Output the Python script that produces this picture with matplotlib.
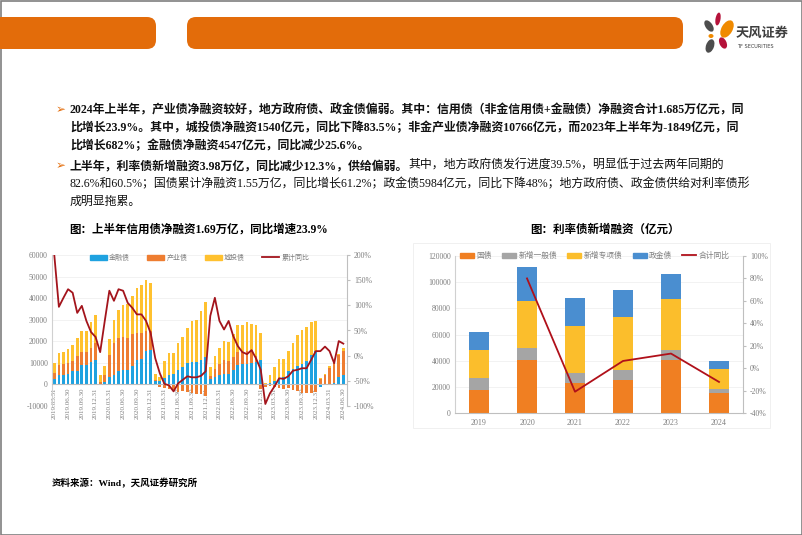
import numpy as np
import matplotlib
matplotlib.use('Agg')
import matplotlib.pyplot as plt
from matplotlib.patches import FancyBboxPatch, Rectangle, Ellipse, Patch
from matplotlib.lines import Line2D

plt.rcParams['font.family'] = ['Liberation Serif', 'Noto Sans CJK SC', 'DejaVu Sans']
plt.rcParams['axes.unicode_minus'] = False

W, H = 802, 535

# ---- left chart: monthly cumulative credit bond net financing (2019.03 - 2024.06)
fin_bond = [2500, 4500, 4500, 5000, 6000, 6000, 9000, 9000, 10500, 11500,
            -200, 1000, 3500, 4500, 6000, 6500, 6500, 8500, 11500, 12000, 15500, 16000,
            1500, 1500, 3000, 4500, 5000, 6500, 8000, 10000, 10500, 10500, 11500, 12500,
            2700, 3400, 4200, 5000, 5000, 6500, 9200, 9700, 9700, 10000, 10500, 11200,
            300, 800, 1500, 2500, 3500, 6112, 7000, 8500, 9500, 11000, 13500, 15500,
            -1200, 0, 300, 800, 3500, 4547]
ind_bond = [3000, 4500, 5000, 5000, 5000, 7000, 6000, 6000, 6500, 7500,
            1200, 3500, 10000, 14500, 15500, 15500, 15000, 15000, 12500, 12000, 9500, 9000,
            500, -1000, -1500, -2000, -3000, -3500, -3000, -3500, -4000, -4500, -4500, -5500,
            1300, 3900, 5500, 6200, 6000, 6300, 5800, 5300, 5800, 6000, 2500, -2000,
            -1000, -500, -1000, -1500, -2000, -1849, -2500, -3000, -4000, -4000, -4000, -3500,
            2500, 4500, 7500, 9000, 10000, 10766]
lgfv_bond = [4500, 5500, 5500, 6500, 7500, 8500, 10000, 10000, 12000, 13000,
             3300, 4000, 7500, 11000, 13000, 15000, 16000, 17500, 20500, 22000, 23500, 22000,
             3000, 2000, 8000, 10000, 9500, 12500, 14000, 16000, 19000, 19500, 22500, 25500,
             4000, 5700, 7300, 8800, 8500, 10700, 12500, 12500, 13500, 12000, 14500, 12800,
             500, 3700, 6500, 9500, 8500, 9333, 12000, 14500, 15500, 15500, 15500, 14000,
             500, 500, 700, 700, 500, 1540]
credit_yoy = [200, 97, 115, 132, 125, 85, 99, 69, 47, 37,
              7, 69, 129, 109, 132, 129, 105, 95, 82, 82, 69, 45,
              -5, -35, -56, -59, -71, -55, -48, -41, -43, -43, -40, -31,
              79, 115, 69, 52, 69, 39, 19, 7, 3, 11, -6, -28,
              -96, -75, -61, -45, -46, -41, -30, -28, -25, -25, -8, 9,
              9, 18, 9, -15, 29, 23.9]
left_ticks = ['2019.03.31', '2019.06.30', '2019.09.30', '2019.12.31',
              '2020.03.31', '2020.06.30', '2020.09.30', '2020.12.31',
              '2021.03.31', '2021.06.30', '2021.09.30', '2021.12.31',
              '2022.03.31', '2022.06.30', '2022.09.30', '2022.12.31',
              '2023.03.31', '2023.06.30', '2023.09.30', '2023.12.31',
              '2024.03.31', '2024.06.30']

# ---- right chart: rate bond new financing (100 mn yuan)
years = ['2019', '2020', '2021', '2022', '2023', '2024']
treasury = [17300, 40300, 22900, 25500, 40800, 15500]
general_lg = [9200, 9400, 7700, 7100, 7100, 3100]
special_lg = [21400, 35900, 36200, 40800, 39500, 15200]
policy_bank = [14000, 25700, 21400, 20400, 18600, 5984]
rate_yoy = [np.nan, 80, -21, 6.4, 13, -12.3]

ORANGE = '#E36C0A'
GRAY_TXT = '#7F7F7F'

fig = plt.figure(figsize=(W / 100, H / 100), dpi=100)
bg = fig.add_axes([0, 0, 1, 1], zorder=-1)
bg.set_xlim(0, W)
bg.set_ylim(H, 0)
bg.axis('off')

# slide frame + header bars
bg.add_patch(Rectangle((0.5, 0.5), W - 1, H - 1, fill=False, ec='#7F7F7F', lw=1.2))
bg.add_patch(FancyBboxPatch((-20, 17), 176, 32, boxstyle='round,pad=0,rounding_size=9',
                            fc=ORANGE, ec='none'))
bg.add_patch(FancyBboxPatch((187, 17), 496, 32, boxstyle='round,pad=0,rounding_size=9',
                            fc=ORANGE, ec='none'))

# logo
petals = [((718, 19), 5, 13, 10, '#B5123A'), ((709, 26), 7, 13, -35, '#4D4D4D'),
          ((727, 29), 11, 19, 30, '#F08A00'), ((711, 36), 5, 4, 0, '#F08A00'),
          ((710, 46), 8, 14, 20, '#4D4D4D'), ((723, 43), 7, 12, -25, '#B5123A')]
for c, w, h, a, col in petals:
    bg.add_patch(Ellipse(c, w, h, angle=a, fc=col, ec='none'))
bg.text(736, 33, '天风证券', fontsize=9.5, fontweight='bold', color='#3F3F3F',
        va='center', ha='left', family=['Noto Sans CJK SC'])
bg.text(737, 46, 'TF SECURITIES', fontsize=3.6, color='#3F3F3F', va='center', ha='left',
        family=['DejaVu Sans'])

# bullet text
renderer = fig.canvas.get_renderer()
BODY = 8.6


def put(x, y, s, bold=False):
    t = bg.text(x, y, s, fontsize=BODY, fontweight='bold' if bold else 'normal',
                va='center', ha='left', color='#111111')
    return t


def after(t):
    bb = t.get_window_extent(renderer=renderer)
    return bg.transData.inverted().transform((bb.x1, bb.y0))[0]


for y in (110, 166):
    bg.text(56, y, '➢', fontsize=8.5, color=ORANGE, va='center', ha='left',
            family=['DejaVu Sans'])

put(70, 110, '2024年上半年，产业债净融资较好，地方政府债、政金债偏弱。其中：信用债（非金信用债+金融债）净融资合计1.685万亿元，同', True)
put(70, 128, '比增长23.9%。其中，城投债净融资1540亿元，同比下降83.5%；非金产业债净融资10766亿元，而2023年上半年为-1849亿元，同', True)
put(70, 146, '比增长682%；金融债净融资4547亿元，同比减少25.6%。', True)
t1 = put(70, 166, '上半年，利率债新增融资3.98万亿，同比减少12.3%，供给偏弱。', True)
put(after(t1), 166, '其中，地方政府债发行进度39.5%，明显低于过去两年同期的')
put(70, 184, '82.6%和60.5%；国债累计净融资1.55万亿，同比增长61.2%；政金债5984亿元，同比下降48%；地方政府债、政金债供给对利率债形')
put(70, 202, '成明显拖累。')

bg.text(69, 230, '图：上半年信用债净融资1.69万亿，同比增速23.9%', fontsize=8.3,
        fontweight='bold', va='center', ha='left')
bg.text(530, 230, '图：利率债新增融资（亿元）', fontsize=8.3, fontweight='bold',
        va='center', ha='left')
bg.text(52, 483, '资料来源：Wind，天风证券研究所', fontsize=6.8, fontweight='bold',
        va='center', ha='left')


def px_axes(x0, y0, x1, y1):
    return fig.add_axes([x0 / W, 1 - y1 / H, (x1 - x0) / W, (y1 - y0) / H], zorder=1)


def style_ax(ax, ax2):
    for a in (ax, ax2):
        a.spines['top'].set_visible(False)
        a.patch.set_alpha(0)
    ax.spines['right'].set_visible(False)
    ax2.spines['left'].set_visible(False)
    ax2.spines['bottom'].set_visible(False)
    ax.spines['left'].set_color('#D0D0D0')
    ax2.spines['right'].set_color('#BFBFBF')
    ax.spines['bottom'].set_color('#BFBFBF')
    for a in (ax, ax2):
        a.tick_params(axis='y', labelsize=5.6, colors=GRAY_TXT, length=0, pad=3)
    ax2.tick_params(axis='y', length=2, color='#BFBFBF')
    ax.grid(axis='y', color='#EDEDED', lw=0.5)
    ax.set_axisbelow(True)


# ---- left chart
colors_l = ['#1FA2E0', '#EE7D31', '#FFC12F']
axL = px_axes(52, 255, 347, 406)
axL2 = axL.twinx()
n = len(fin_bond)
x = np.arange(n)
pos = np.zeros(n)
neg = np.zeros(n)
for vals, col, lab in [(fin_bond, colors_l[0], '金融债'), (ind_bond, colors_l[1], '产业债'),
                       (lgfv_bond, colors_l[2], '城投债')]:
    v = np.array(vals, dtype=float)
    axL.bar(x, v, bottom=np.where(v >= 0, pos, neg), width=0.58, color=col, label=lab,
            linewidth=0)
    pos += np.clip(v, 0, None)
    neg += np.clip(v, None, 0)
axL2.plot(x, np.array(credit_yoy) / 100, color='#A3141C', lw=1.3, label='累计同比')
axL.set_xlim(-0.5, 63.8)
axL.set_ylim(-10000, 60000)
axL.set_yticks(range(-10000, 60001, 10000))
axL2.set_ylim(-1, 2)
axL2.set_yticks(np.arange(-1, 2.01, 0.5))
axL2.set_yticklabels([f'{v:.0f}%' for v in np.arange(-100, 201, 50)])
style_ax(axL, axL2)
axL.spines['bottom'].set_position(('data', 0))
axL.set_xticks(np.arange(0, n, 3))
axL.set_xticklabels(left_ticks, rotation=90, fontsize=5.0, color=GRAY_TXT)
axL.tick_params(axis='x', length=0, pad=2)
hL = [Patch(color=c) for c in colors_l] + [Line2D([], [], color='#A3141C', lw=1.3)]
axL2.legend(hL, ['金融债', '产业债', '城投债', '累计同比'], ncol=4, loc='center',
            bbox_to_anchor=(0.5, 0.985), frameon=False, fontsize=5, handlelength=2.45,
            handleheight=0.7, handletextpad=0.3, columnspacing=2.5, labelcolor=GRAY_TXT)

# ---- right chart
colors_r = ['#F07F22', '#A5A5A5', '#FBBE2C', '#4A8ED0']
axR = px_axes(455, 256, 743, 413)
axR2 = axR.twinx()
xr = np.arange(len(years))
bottom = np.zeros(len(years))
for vals, col, lab in [(treasury, colors_r[0], '国债'), (general_lg, colors_r[1], '新增一般债'),
                       (special_lg, colors_r[2], '新增专项债'), (policy_bank, colors_r[3], '政金债')]:
    axR.bar(xr, vals, bottom=bottom, width=0.4, color=col, label=lab, linewidth=0)
    bottom += np.array(vals, dtype=float)
axR2.plot(xr, np.array(rate_yoy) / 100, color='#B0101A', lw=1.3)
axR.set_xlim(-0.5, 5.5)
axR.set_ylim(0, 120000)
axR.set_yticks(range(0, 120001, 20000))
axR2.set_ylim(-0.4, 1.0)
axR2.set_yticks(np.arange(-0.4, 1.001, 0.2))
axR2.set_yticklabels([f'{v:.0f}%' for v in np.arange(-40, 101, 20)])
style_ax(axR, axR2)
axR.set_xticks(xr)
axR.set_xticklabels(years, fontsize=5.8, color=GRAY_TXT)
axR.tick_params(axis='x', length=0, pad=4)
hR = [Patch(color=c) for c in colors_r] + [Line2D([], [], color='#B0101A', lw=1.3)]
axR2.legend(hR, ['国债', '新增一般债', '新增专项债', '政金债', '合计同比'], ncol=5,
            loc='center', bbox_to_anchor=(0.486, 1.0), frameon=False, fontsize=5.6,
            handlelength=1.8, handleheight=0.7, handletextpad=0.3, columnspacing=1.3,
            labelcolor=GRAY_TXT)
bg.add_patch(Rectangle((413, 243), 357, 185, fill=False, ec='#EEEEEE', lw=0.6))

fig.savefig('out.png', dpi=100)
